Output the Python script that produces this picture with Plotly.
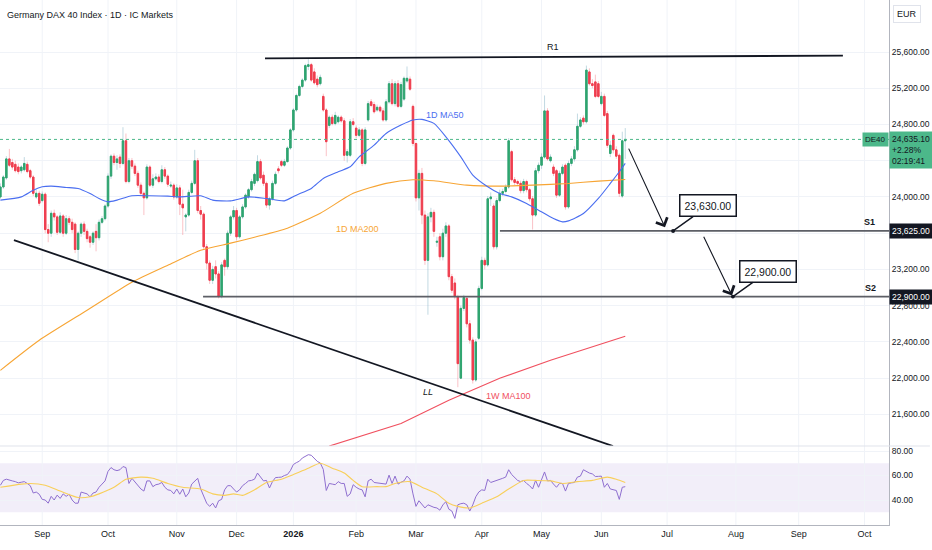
import pandas as pd
import plotly.graph_objects as go

# ---------------- data ----------------
holidays = ["2025-12-24", "2025-12-25", "2025-12-26", "2025-12-31",
            "2026-01-01", "2026-04-03", "2026-04-06", "2026-05-01"]

opens = [
    24000, 24110, 24210, 24420, 24380, 24360, 24330, 24290, 24300, 24360,
    24290, 24220, 24000, 24040, 23960, 24030, 23640, 23600, 23820, 23780,
    23610, 23790, 23600, 23760, 23720, 23700, 23420, 23600, 23700, 23620,
    23560, 23500, 23620, 23550, 23720, 23760, 23900, 24230, 24450, 24380,
    24440, 24370, 24620, 24170, 24400, 24340, 24260, 24130, 24040, 23990,
    24330, 24130, 24200, 24220, 24170, 24300, 24230, 24120, 24130, 24000,
    24100, 23920, 23780, 23800, 24050, 24150, 24400, 23850, 23810, 23450,
    23270, 23080, 23230, 23150,
    22900, 23300, 23230, 23600, 23780, 23850, 23560, 23780, 23890, 24000,
    24080, 24150, 24180, 24390, 24240, 24150, 23910, 23980, 24150, 24310,
    24390, 24350, 24390, 24540, 24740, 24960, 25120, 25220, 25290, 25440,
    25460, 25380, 25300, 25250,
    25110, 24960, 24790, 24880, 24810, 24830, 24880, 24840, 24460, 24460,
    24830, 24760, 24680, 24740, 24370, 24850, 25050, 25020, 24960, 24990,
    24950, 24850, 25050, 25250, 25030, 25250, 25000, 25080, 25280, 25300,
    25000, 24590, 23990, 24260, 23800, 23300, 23780, 23830, 23500, 23560,
    23340, 23600, 23680, 23120, 23050, 22900, 22000, 22770, 22880, 22600,
    22420, 21980, 22440, 22990, 23300, 23250, 23980, 23900, 23450, 23960,
    24040, 24060, 24110, 24500, 24190, 24170, 24150, 24070, 24170, 24080,
    23980, 23800, 24290, 24350, 24440, 24950, 24400, 24330, 24290, 24020,
    24260, 24350, 23890, 24370, 24420, 24520, 24780, 24870, 24830, 25380,
    25250, 25270, 25250, 25030, 25110, 24920, 24480, 24680, 24520, 24460,
    24010, 24620]

highs = [
    24150, 24240, 24450, 24530, 24420, 24400, 24370, 24350, 24440, 24390,
    24310, 24240, 24080, 24070, 24060, 24050, 23700, 23850, 23860, 23800,
    23830, 23810, 23800, 23790, 23760, 23720, 23620, 23720, 23730, 23650,
    23580, 23620, 23700, 23750, 23790, 23920, 24260, 24470, 24480, 24460,
    24470, 24770, 24700, 24430, 24430, 24370, 24290, 24160, 24060, 24360,
    24350, 24250, 24260, 24250, 24350, 24330, 24250, 24170, 24150, 24140,
    24130, 24080, 23820, 24080, 24180, 24520, 24430, 23900, 23830, 23480,
    23300, 23240, 23300, 23180,
    23280, 23320, 23630, 23800, 23900, 23880, 23800, 23920, 24040, 24100,
    24200, 24270, 24460, 24420, 24280, 24170, 24000, 24180, 24280, 24340,
    24410, 24420, 24560, 24760, 24980, 25140, 25240, 25310, 25470, 25520,
    25480, 25420, 25340, 25350,
    25140, 24980, 24900, 24910, 24940, 24900, 24900, 24870, 24530, 24860,
    24870, 24790, 24770, 24760, 24770, 25060, 25080, 25050, 25020, 25010,
    24980, 25080, 25280, 25300, 25280, 25290, 25270, 25330, 25440, 25330,
    25020, 24600, 24300, 24320, 23850, 23820, 23880, 23860, 23560, 23600,
    23650, 23720, 23700, 23150, 23100, 22920, 22800, 22920, 22900, 22640,
    22450, 22430, 23020, 23340, 23330, 24010, 24050, 23930, 23990, 24080,
    24090, 24140, 24650, 24520, 24220, 24190, 24180, 24200, 24190, 24100,
    24010, 24320, 24380, 24480, 25120, 24980, 24470, 24360, 24310, 24290,
    24360, 24370, 24400, 24450, 24560, 24920, 24880, 24900, 25450, 25420,
    25300, 25350, 25280, 25160, 25140, 24950, 24620, 24700, 24560, 24480,
    24720, 24760]

lows = [
    23980, 24090, 24190, 24330, 24300, 24270, 24250, 24260, 24280, 24260,
    24200, 24010, 23980, 23900, 23940, 23600, 23500, 23560, 23740, 23580,
    23590, 23560, 23580, 23690, 23600, 23380, 23300, 23560, 23580, 23500,
    23440, 23470, 23400, 23520, 23700, 23740, 23880, 24200, 24350, 24300,
    24320, 24350, 24150, 24150, 24310, 24230, 24100, 24010, 23800, 23970,
    24110, 24100, 24180, 24150, 24150, 24200, 24110, 24100, 23970, 23980,
    23800, 23580, 23620, 23780, 24030, 24130, 23820, 23750, 23420, 23200,
    23040, 23040, 23100, 22880,
    22880, 23130, 23200, 23570, 23750, 23520, 23540, 23760, 23870, 23980,
    24060, 24120, 24160, 24190, 24120, 23880, 23860, 23960, 24130, 24260,
    24330, 24330, 24380, 24520, 24720, 24940, 25100, 25200, 25270, 25400,
    25270, 25240, 25210, 25230,
    24940, 24450, 24760, 24790, 24790, 24810, 24820, 24400, 24380, 24440,
    24780, 24650, 24660, 24340, 24350, 24830, 24990, 24920, 24940, 24930,
    24830, 24830, 25030, 25010, 25000, 24980, 24980, 25060, 25260, 25170,
    24560, 23950, 23850, 23700, 23250, 22700, 23720, 23560, 23450, 23300,
    23300, 23560, 23080, 22940, 22870, 21900, 21990, 22740, 22560, 22380,
    21940, 21960, 22420, 22970, 23200, 23230, 23900, 23420, 23420, 23940,
    24010, 24040, 24090, 24170, 24130, 24120, 24040, 24040, 24050, 23950,
    23640, 23780, 24260, 24310, 24420, 24400, 24380, 24230, 23990, 24000,
    24240, 23860, 23870, 24340, 24390, 24500, 24760, 24800, 24810, 25230,
    25200, 25090, 25090, 25010, 24880, 24540, 24440, 24480, 24420, 24000,
    23990, 24420]

closes = [
    24110, 24220, 24420, 24350, 24330, 24290, 24280, 24330, 24370, 24280,
    24220, 24040, 24040, 23930, 24030, 23640, 23600, 23820, 23780, 23610,
    23790, 23600, 23760, 23720, 23640, 23420, 23600, 23700, 23620, 23540,
    23500, 23600, 23550, 23720, 23760, 23900, 24230, 24450, 24380, 24420,
    24370, 24620, 24170, 24400, 24340, 24260, 24130, 24040, 23990, 24330,
    24130, 24200, 24220, 24170, 24300, 24230, 24140, 24130, 24000, 24100,
    23920, 23880, 23800, 24050, 24150, 24400, 23850, 23810, 23450, 23270,
    23080, 23200, 23150, 22900,
    23250, 23230, 23600, 23780, 23850, 23560, 23780, 23890, 24020, 24080,
    24170, 24250, 24390, 24210, 24150, 23910, 23980, 24150, 24250, 24290,
    24350, 24390, 24540, 24740, 24960, 25120, 25220, 25290, 25450, 25460,
    25290, 25260, 25240, 25320,
    24960, 24610, 24880, 24810, 24900, 24880, 24840, 24460, 24500, 24830,
    24800, 24680, 24740, 24370, 24740, 25030, 25010, 24940, 24990, 24950,
    24850, 25050, 25250, 25030, 25250, 25000, 25240, 25310, 25310, 25190,
    24590, 23990, 24260, 23800, 23300, 23780, 23830, 23620, 23510, 23340,
    23600, 23680, 23120, 22970, 22900, 22160, 22770, 22890, 22600, 22420,
    21980, 22400, 22990, 23300, 23250, 23980, 24000, 23450, 23960, 24040,
    24060, 24110, 24620, 24190, 24160, 24150, 24070, 24170, 24080, 23980,
    23800, 24290, 24350, 24440, 24950, 24420, 24440, 24260, 24020, 24260,
    24330, 23890, 24370, 24420, 24520, 24780, 24850, 24830, 25400, 25250,
    25230, 25110, 25110, 25110, 24900, 24570, 24570, 24520, 24450, 24040,
    24620, 24635.1]

rsi = [
    52, 56, 57, 56, 55.6, 55, 54, 54.5, 55, 53.5,
    51.7, 45.7, 46.5, 44.7, 40.5, 40, 37.4, 43, 40, 44,
    41.3, 45, 43, 44.7, 40, 37.4, 37.4, 46.5, 45.5, 45,
    42.6, 45.7, 46.5, 50.4, 53, 55.6, 63.4, 66.5, 64.7, 64,
    64.7, 67.3, 66.5, 53.5, 57.7, 55, 51.7, 49, 47.3, 55.6,
    55.6, 50.9, 52.5, 53, 54.3, 50.4, 48.3, 47.8, 45, 49,
    44.7, 49, 42.6, 45.7, 53, 55, 57.7, 49, 42.6, 37.4,
    34.8, 37.4, 33.5, 39.4, 40.5, 48.3, 51.7, 51.7, 49, 46.5,
    48.3, 51.7, 53.5, 55.6, 56, 57, 62, 58.3, 55.6, 56,
    49.8, 55, 58.3, 58.5, 58.7, 60, 60.8, 64, 69, 70.5,
    71.7, 74.3, 75.5, 77, 76.5, 74, 71.5, 70.2, 65, 47.8,
    53.5, 53, 52.5, 55, 53.5, 53.5, 43, 45, 52.5, 50.4,
    49, 48.3, 42.6, 55.6, 57, 54.3, 54, 53.5, 53.2, 53,
    60.3, 53.5, 59.5, 53, 54.5, 55.6, 59.5, 57, 45, 34.8,
    39.4, 36, 33.5, 36.1, 34.8, 34, 33.5, 31.7, 36, 38.7,
    32.5, 31, 25, 36.1, 37, 37.4, 36.1, 31, 36, 42.6,
    46.5, 48.3, 47.8, 57, 54.3, 55, 56, 57, 57.7, 58.7,
    64.7, 60.8, 58, 56, 55, 56, 53.5, 51.7, 49, 56,
    50.4, 56, 62.9, 55.6, 56, 53, 50.4, 53.5, 53.5, 47.3,
    53.5, 54, 54.3, 58.7, 59.5, 64.7, 63, 62, 61.3, 59.2,
    59.3, 59.5, 50.4, 53.5, 49, 48.3, 47.8, 40.5, 50.4, 50.9]

# sampled indicator lines: bar number -> value
rsi_ma_bars = [0, 7, 10, 15, 20, 26, 30, 33, 38, 42, 47, 51, 56, 61, 67, 71, 75, 78, 81,
               85, 89, 94, 98, 103, 107, 111, 115, 118, 121, 126, 129, 132, 137, 141,
               146, 150, 153, 157, 161, 166, 170, 175, 179, 184, 188, 193, 198, 203, 206, 209]
rsi_ma_vals = [50.4, 53, 53.5, 52, 47.3, 42, 42.6, 45, 50.4, 56.9, 58.7, 57.7, 53.5, 50.4,
               49, 45, 43.8, 45, 43.8, 48.3, 54.3, 57, 60.8, 66, 70, 66, 62, 56, 50.9, 50.9,
               50.9, 53.5, 55, 50.4, 45, 37.4, 34.8, 33.5, 37.4, 42.6, 49, 56, 56, 55.6,
               53.5, 55, 56, 58.7, 57, 54.3]

ma50_bars = [0, 7, 11, 14, 17, 22, 26, 30, 33, 36, 39, 44, 50, 56, 60, 67, 71, 77, 83, 89,
             95, 99, 104, 108, 113, 117, 120, 125, 129, 134, 138, 141, 145, 149, 154, 158,
             163, 167, 171, 176, 180, 185, 188, 190, 195, 200, 204, 207, 209]
ma50_vals = [23965, 24001, 24075, 24112, 24119, 24105, 24094, 24038, 23983, 23946, 23965,
             24013, 24013, 24009, 24001, 24013, 23965, 23957, 24001, 23983, 23957, 24020,
             24094, 24204, 24278, 24333, 24443, 24572, 24701, 24793, 24849, 24856, 24812,
             24664, 24443, 24241, 24112, 24038, 24001, 23928, 23854, 23762, 23725, 23736,
             23817, 23983, 24149, 24278, 24370]

ma200_bars = [0, 13, 29, 44, 56, 67, 77, 85, 96, 107, 118, 129, 138, 145, 156, 167, 178,
              190, 200, 209]
ma200_vals = [22086, 22418, 22749, 23058, 23246, 23412, 23490, 23556, 23655, 23820, 24040,
              24150, 24190, 24178, 24130, 24119, 24130, 24149, 24175, 24193]

w_ma100_bars = [110, 134, 150, 167, 184, 209]
w_ma100_vals = [21250, 21500, 21755, 21998, 22197, 22462]

month_ticks = ["2025-09-01", "2025-10-01", "2025-11-03", "2025-12-01", "2026-01-02",
               "2026-02-02", "2026-03-02", "2026-04-01", "2026-05-04", "2026-06-01",
               "2026-07-01", "2026-08-03", "2026-09-01", "2026-10-01"]
month_labels = ["Sep", "Oct", "Nov", "Dec", "<b>2026</b>", "Feb", "Mar", "Apr", "May",
                "Jun", "Jul", "Aug", "Sep", "Oct"]

price_ticks = [21600, 22000, 22400, 22800, 23200, 23600, 24000, 24400, 24800, 25200, 25600]
hidden_price_ticks = [23600, 24400]   # covered by the price boxes in the reference
rsi_ticks = [40, 60, 80]

# drawings
r1_x = ["2025-12-12 12:00", "2026-09-21 19:00"]
r1_y = [25530, 25560]
ll_x = ["2025-08-18 13:00", "2026-06-04 22:00"]
ll_y = [23524, 21250]
s1_level = 23625
s2_level = 22900
s1_x = ["2026-04-13 02:00", "2026-10-13 05:00"]
s2_x = ["2025-11-13 19:00", "2026-10-13 05:00"]
arrow1 = dict(x0="2026-06-11 22:00", y0=24550, x1="2026-06-30 07:00", y1=23665)
arrow2 = dict(x0="2026-07-17", y0=23576, x1="2026-07-30 17:00", y1=22913)
call1 = dict(x="2026-07-03", y=23625, text="23,630.00")
call2 = dict(x="2026-07-31", y=22900, text="22,900.00")
labels = [  # (date, price, text, colour)
    ("2026-05-07 19:00", 25655, "R1", "#131722"),
    ("2026-03-06", 21845, "<i>LL</i>", "#131722"),
    ("2026-04-15 19:00", 21802, "1W MA100", "#f0505f"),
    ("2026-02-02 07:00", 23646, "1D MA200", "#f7a534"),
    ("2026-03-13 17:00", 24904, "1D MA50", "#4a6ef0"),
]
x_range = ["2025-08-11 21:00", "2026-10-13 05:00"]

# ---------------- figure ----------------
dates = pd.bdate_range("2025-08-12", "2026-07-31")
dates = dates[~dates.isin(pd.to_datetime(holidays))][:len(closes)]

UP, DN = "#2fa56f", "#ef3e4f"
UPW, DNW = "rgba(120,170,190,0.45)", "rgba(242,80,95,0.35)"
FONT = "Liberation Sans, Arial, sans-serif"
TXT = "#131722"
GRID = "#f0f3f8"

fig = go.Figure()

# wicks (pale)
fig.add_trace(go.Candlestick(
    x=dates, open=opens, high=highs, low=lows, close=closes,
    increasing=dict(line=dict(color=UPW, width=1), fillcolor=UPW),
    decreasing=dict(line=dict(color=DNW, width=1), fillcolor=DNW),
    whiskerwidth=0, showlegend=False, hoverinfo="skip", xaxis="x", yaxis="y"))
# solid bodies
body_hi = [max(o, c) for o, c in zip(opens, closes)]
body_lo = [min(o, c) for o, c in zip(opens, closes)]
fig.add_trace(go.Candlestick(
    x=dates, open=opens, high=body_hi, low=body_lo, close=closes,
    increasing=dict(line=dict(color=UP, width=1), fillcolor=UP),
    decreasing=dict(line=dict(color=DN, width=1), fillcolor=DN),
    whiskerwidth=0, showlegend=False, hoverinfo="skip", xaxis="x", yaxis="y"))

def line_trace(bars, vals, color, width=1.1, yaxis="y"):
    return go.Scatter(x=[dates[b] for b in bars], y=vals, mode="lines",
                      line=dict(color=color, width=width, shape="spline", smoothing=0.6),
                      showlegend=False, hoverinfo="skip", yaxis=yaxis)

fig.add_trace(line_trace(ma200_bars, ma200_vals, "#f7a534"))
fig.add_trace(line_trace(ma50_bars, ma50_vals, "#4a6ef0"))
fig.add_trace(go.Scatter(x=[dates[b] for b in w_ma100_bars], y=w_ma100_vals, mode="lines",
                         line=dict(color="#f0505f", width=1.1), showlegend=False,
                         hoverinfo="skip", yaxis="y"))

# trend lines
for xs, ys, col, w in [(r1_x, r1_y, "#131722", 1.8), (ll_x, ll_y, "#131722", 1.8),
                       (s1_x, [s1_level] * 2, "#5d5f66", 1.6),
                       (s2_x, [s2_level] * 2, "#5d5f66", 1.6)]:
    fig.add_trace(go.Scatter(x=xs, y=ys, mode="lines", line=dict(color=col, width=w),
                             showlegend=False, hoverinfo="skip", yaxis="y"))

# RSI
fig.add_trace(go.Scatter(x=dates, y=rsi, mode="lines", line=dict(color="#8f6fd0", width=1),
                         showlegend=False, hoverinfo="skip", yaxis="y2"))
fig.add_trace(line_trace(rsi_ma_bars, rsi_ma_vals, "#f8cf5a", 1.1, "y2"))

shapes = [
    dict(type="rect", xref="paper", x0=0, x1=1, yref="y2", y0=30, y1=70,
         fillcolor="rgba(126,87,194,0.10)", line=dict(width=0), layer="below"),
    dict(type="line", xref="paper", x0=0, x1=1, yref="y", y0=closes[-1], y1=closes[-1],
         line=dict(color="#4cb88a", width=1, dash="dot")),
    dict(type="line", xref="paper", x0=0, x1=1.046, yref="paper", y0=0.1505, y1=0.1505,
         line=dict(color="#e0e3eb", width=1)),
]
for t in month_ticks:
    shapes.append(dict(type="line", xref="x", x0=t, x1=t, yref="paper", y0=0, y1=1,
                       line=dict(color=GRID, width=1), layer="below"))

def fmt(v):
    return f"{v:,.2f}"

ann = [
    dict(xref="paper", yref="paper", x=0.006, y=0.972, xanchor="left", yanchor="middle",
         text="Germany DAX 40 Index · 1D · IC Markets", showarrow=False,
         font=dict(size=9, color=TXT)),
    dict(xref="paper", yref="paper", x=1.0045, y=0.973, xanchor="left", yanchor="middle",
         text="EUR", showarrow=False, font=dict(size=9, color=TXT),
         bordercolor="#e0e3eb", borderwidth=1, borderpad=3, bgcolor="white"),
    dict(xref="paper", yref="y", x=0.986, y=s1_level, yanchor="bottom", yshift=2, text="<b>S1</b>",
         showarrow=False, font=dict(size=9, color=TXT)),
    dict(xref="paper", yref="y", x=0.988, y=s2_level, yanchor="bottom", yshift=2, text="<b>S2</b>",
         showarrow=False, font=dict(size=9, color=TXT)),
    # arrows
    dict(xref="x", yref="y", axref="x", ayref="y", x=arrow1["x1"], y=arrow1["y1"],
         ax=arrow1["x0"], ay=arrow1["y0"], text="", showarrow=True, arrowhead=4,
         arrowsize=2.2, arrowwidth=1.1, arrowcolor=TXT),
    dict(xref="x", yref="y", axref="x", ayref="y", x=arrow2["x1"], y=arrow2["y1"],
         ax=arrow2["x0"], ay=arrow2["y0"], text="", showarrow=True, arrowhead=4,
         arrowsize=2.2, arrowwidth=1.1, arrowcolor=TXT),
]
for d, p, t, col in labels:
    ann.append(dict(xref="x", yref="y", x=d, y=p, text=t, showarrow=False,
                    font=dict(size=9, color=col)))
for c in (call1, call2):
    ann.append(dict(xref="x", yref="y", x=c["x"], y=c["y"], ax=35, ay=-25, text=c["text"],
                    showarrow=True, arrowhead=6, arrowsize=0.7, arrowwidth=1.4,
                    arrowcolor=TXT, standoff=0, bgcolor="white", bordercolor=TXT,
                    borderwidth=1.5, borderpad=4, font=dict(size=10.5, color=TXT)))
# right-axis labels
ann += [
    dict(xref="paper", yref="y", x=1, y=closes[-1], xanchor="right", yanchor="middle",
         text="DE40", showarrow=False, bgcolor="#4cb88a", borderpad=2,
         font=dict(size=8, color=TXT)),
    dict(xref="paper", yref="y", x=1, y=closes[-1], xanchor="left", yanchor="top", yshift=8,
         text=f"{fmt(closes[-1])}<br>+2.28%<br>02:19:41", align="left", showarrow=False,
         bgcolor="#4cb88a", borderpad=2, font=dict(size=8.5, color=TXT)),
    dict(xref="paper", yref="y", x=1, y=s1_level, xanchor="left", yanchor="middle",
         text=fmt(s1_level), showarrow=False, bgcolor=TXT, borderpad=2,
         font=dict(size=8.5, color="white")),
    dict(xref="paper", yref="y", x=1, y=s2_level, xanchor="left", yanchor="middle",
         text=fmt(s2_level), showarrow=False, bgcolor=TXT, borderpad=2,
         font=dict(size=8.5, color="white")),
]

fig.update_layout(
    width=932, height=550, autosize=False,
    margin=dict(l=0, r=43, t=0, b=25, autoexpand=False),
    paper_bgcolor="white", plot_bgcolor="white",
    font=dict(family=FONT, size=9, color=TXT),
    showlegend=False, hovermode=False,
    xaxis=dict(type="date", range=x_range, anchor="y2", automargin=False,
               rangebreaks=[dict(bounds=["sat", "mon"]), dict(values=holidays)],
               rangeslider=dict(visible=False), tickvals=month_ticks, ticktext=month_labels,
               showgrid=False, ticks="", showline=True, linecolor="#b2b5be",
               tickfont=dict(size=9, color=TXT), zeroline=False),
    yaxis=dict(domain=[0.1505, 1], range=[21251, 26174], side="right", anchor="x",
               automargin=False, tickvals=price_ticks,
               ticktext=["" if v in hidden_price_ticks else fmt(v) for v in price_ticks],
               showgrid=True, gridcolor=GRID, showline=True, linecolor="#b2b5be",
               ticks="", tickfont=dict(size=8.5, color=TXT), zeroline=False),
    yaxis2=dict(domain=[0, 0.1505], range=[19.6, 84.1], side="right", anchor="x",
                automargin=False, tickvals=rsi_ticks, ticktext=[fmt(v) for v in rsi_ticks],
                showgrid=True, gridcolor=GRID, showline=True, linecolor="#b2b5be",
                ticks="", tickfont=dict(size=8.5, color=TXT), zeroline=False),
    shapes=shapes, annotations=ann,
)

fig.write_html("out.html", config={"displayModeBar": False},
               post_script="document.body.style.margin='0px';")
